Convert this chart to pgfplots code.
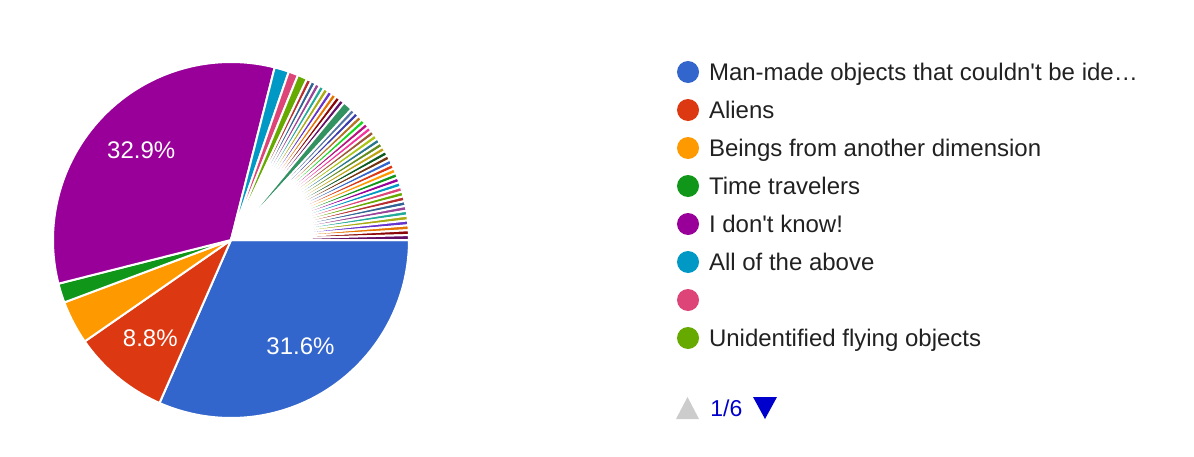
\documentclass[border=0pt]{standalone}
\usepackage{pgfplots}
\usepackage{pgfplotstable}
\pgfplotsset{compat=1.18}
\usepackage{fontspec}
\setmainfont{Liberation Sans}

\definecolor{legendtext}{HTML}{212121}
\definecolor{pagergray}{HTML}{CCCCCC}
\definecolor{pagerblue}{HTML}{0000CC}

% Responses per answer, in the order the slices are drawn (clockwise from 3 o'clock)
\pgfplotstableread{
count color
72 3366CC
20 DC3912
9  FF9900
4  109618
75 990099
3  0099C6
2  DD4477
2  66AA00
1  B82E2E
1  316395
1  994499
1  22AA99
1  AAAA11
1  6633CC
1  E67300
1  8B0707
1  651067
2  329262
1  5574A6
1  3B3EAC
1  B77322
1  16D620
1  B91383
1  F4359E
1  9C5935
1  A9C413
1  2A778D
1  668D1C
1  BEA413
1  0C5922
1  743411
1  3366CC
1  DC3912
1  FF9900
1  109618
1  990099
1  0099C6
1  DD4477
1  66AA00
1  B82E2E
1  316395
1  994499
1  22AA99
1  AAAA11
1  6633CC
1  E67300
1  8B0707
1  651067
}\responses

\begin{document}
\begin{tikzpicture}
% total number of responses and one colour per slice
\pgfplotstablegetrowsof{\responses}
\pgfmathtruncatemacro\lastslice{\pgfplotsretval-1}
\def\total{0}
\pgfplotsforeachungrouped \i in {0,...,\lastslice}{%
  \pgfplotstablegetelem{\i}{count}\of\responses
  \pgfmathtruncatemacro\total{\total+\pgfplotsretval}%
  \pgfplotstablegetelem{\i}{color}\of\responses
  \edef\hex{\pgfplotsretval}%
  \definecolor{slice\i}{HTML}{\hex}%
}
\begin{axis}[
  hide axis, scale only axis, clip=false,
  width=597pt, height=228pt,
  xmin=0, xmax=1194, ymin=0, ymax=456,
  /pgf/number format/assume math mode=true,
  legend entries={Man-made objects that couldn\textquotesingle t be ide…,
    Aliens, Beings from another dimension, Time travelers,
    I don\textquotesingle t know!, All of the above, {\mbox{}},
    Unidentified flying objects},
  legend image code/.code={\fill[#1, draw=none] (5.5pt,4.3pt) circle[radius=5.5pt];},
  legend style={at={(axis cs:677,395.4)}, anchor=north west,
    draw=none, fill=none, inner sep=0pt, outer sep=0pt,
    font=\fontsize{12}{14}\selectfont, text=legendtext,
    row sep=6.4pt, column sep=5pt,
    nodes={inner sep=0pt, text height=10pt, text depth=2.6pt, anchor=base west}},
]
% pie slices
\def\cum{0}
\pgfplotsforeachungrouped \i in {0,...,\lastslice}{%
  \pgfplotstablegetelem{\i}{count}\of\responses
  \let\cnt\pgfplotsretval
  \pgfmathsetmacro\a{-(\cum+\cnt)/\total*360}%
  \pgfmathsetmacro\b{-\cum/\total*360}%
  \pgfmathtruncatemacro\ns{max(3,ceil(\b-\a)+1)}%
  \pgfmathtruncatemacro\cum{\cum+\cnt}%
  \edef\cmd{\noexpand\addplot[fill=slice\i, draw=white, line width=1pt,
      domain=\a:\b, samples=\ns]
    ({231+178*cos(x)},{216+178*sin(x)}) -- (axis cs:231,216) -- cycle;}%
  \cmd
}
% percentage labels on the large slices
\def\cum{0}
\pgfplotsforeachungrouped \i in {0,...,\lastslice}{%
  \pgfplotstablegetelem{\i}{count}\of\responses
  \let\cnt\pgfplotsretval
  \pgfmathsetmacro\pct{\cnt/\total*100}%
  \pgfmathsetmacro\mid{-(\cum+\cnt/2)/\total*360}%
  \pgfmathsetmacro\lx{231+127*cos(\mid)}%
  \pgfmathsetmacro\ly{216+127*sin(\mid)}%
  \pgfmathtruncatemacro\cum{\cum+\cnt}%
  \pgfmathtruncatemacro\big{\pct>5 ? 1 : 0}%
  \ifnum\big=1
    \edef\cmd{\noexpand\addplot[forget plot, draw=none, mark=none,
        point meta=explicit,
        nodes near coords={\noexpand\pgfmathprintnumber[fixed,precision=1]{\noexpand\pgfplotspointmeta}\noexpand\%},
        nodes near coords style={anchor=center, text=white,
          font=\noexpand\fontsize{12}{14}\noexpand\selectfont}]
      coordinates {(\lx,\ly) [\pct]};}%
    \cmd
  \fi
}
% pager below the legend
\fill[pagergray] (axis cs:676,37) -- (axis cs:699,37) -- (axis cs:687.5,59) -- cycle;
\node[anchor=base west, inner sep=0pt, text=pagerblue, font=\fontsize{11.5}{13}\selectfont]
  at (axis cs:710,40) {1/6};
\fill[pagerblue] (axis cs:753,59) -- (axis cs:777,59) -- (axis cs:765,37) -- cycle;
\end{axis}
\path (current axis.south west) rectangle (current axis.north east);
\end{tikzpicture}
\end{document}
